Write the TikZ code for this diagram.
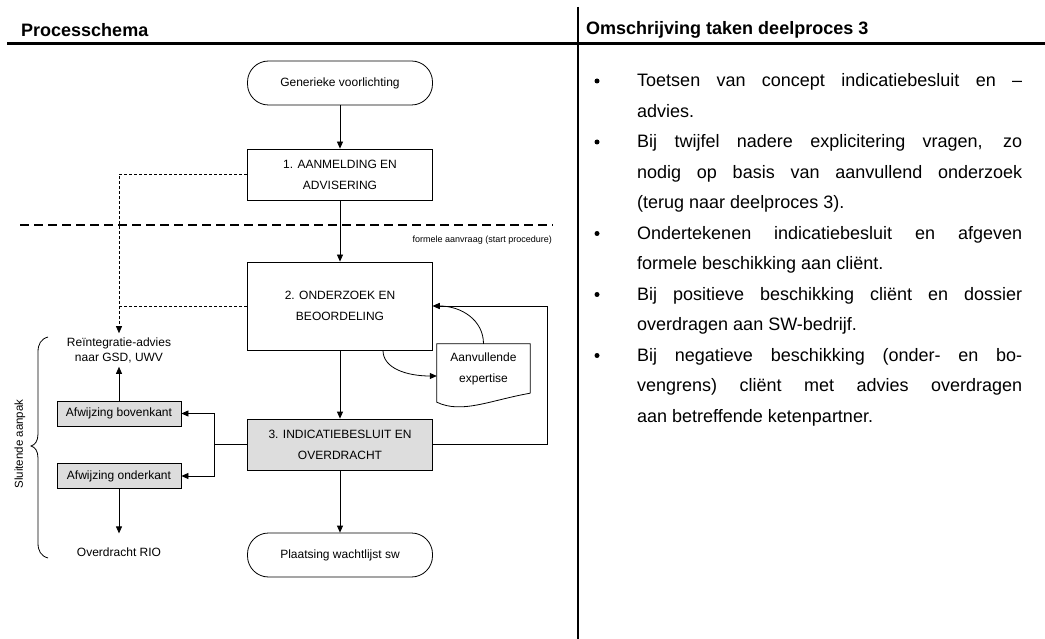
\documentclass[tikz,border=0pt]{standalone}
\usepackage{fontspec}
\setmainfont{Liberation Sans}
\usetikzlibrary{arrows.meta,calc}
\definecolor{boxgray}{RGB}{221,221,221}
% justified paragraph of the task list, no hyphenation
\newcommand\taskpar[1]{\parbox[t]{385pt}{\fontsize{18}{30.5}\selectfont
  \hyphenpenalty=10000\relax \hbadness=10000\relax #1}}

\begin{document}
\begin{tikzpicture}[x=1pt,y=-1pt,
  ln/.style={line width=0.8pt},
  arr/.style={ln,-{Triangle[length=7pt,width=6pt]}},
  dsh/.style={line width=0.7pt,dash pattern=on 3pt off 2pt},
  chartfont/.style={font=\fontsize{12}{21}\selectfont},
  procbox/.style={draw,ln,chartfont,minimum width=185pt,inner sep=0pt,align=center},
  termbox/.style={draw,ln,chartfont,minimum width=185pt,minimum height=44pt,rounded corners=21pt,inner sep=0pt},
  sidebox/.style={draw,ln,fill=boxgray,font=\fontsize{12}{14}\selectfont,minimum width=124pt,minimum height=25pt,inner sep=0pt},
  plain/.style={font=\fontsize{12}{15}\selectfont,align=center,inner sep=2pt},
  head/.style={anchor=west,inner sep=0pt,font=\bfseries\fontsize{18}{21}\selectfont},
  itemtext/.style={anchor=base west,inner sep=0pt},
  bul/.style={circle,fill=black,inner sep=0pt,minimum size=5pt}
]
\useasboundingbox (0,0) rectangle (1045,639);

% table frame
\draw[line width=3pt] (7,44) -- (1045,44);
\draw[line width=1.3pt] (578,7) -- (578,639);
\node[head] (h1) at (21,30) {Processchema};
\node[head] (h2) at (586,30) {Omschrijving taken deelproces 3};

% flow chart nodes
\node[termbox] (gen) at (340,83) {Generieke voorlichting};
\node[procbox,minimum height=51pt] (b1) at (340,174.5) {1. AANMELDING EN\\ADVISERING};
\node[procbox,minimum height=88pt] (b2) at (340,306) {2. ONDERZOEK EN\\BEOORDELING};
\node[procbox,fill=boxgray,minimum height=51pt] (b3) at (340,444.5) {3. INDICATIEBESLUIT EN\\OVERDRACHT};
\node[termbox] (pl) at (340,555) {Plaatsing wachtlijst sw};

\node[sidebox] (bov) at (119,413.5) {Afwijzing bovenkant};
\node[sidebox] (ond) at (119,476) {Afwijzing onderkant};
\node[plain,inner sep=4pt] (rei) at (119,350) {Reïntegratie-advies\\naar GSD, UWV};
\node[plain] (rio) at (119,552) {Overdracht RIO};

% document shape
\node[chartfont,align=center,minimum width=93pt,minimum height=49pt,inner sep=0pt] (doc) at (483.5,368.5) {\raisebox{-3pt}{\parbox{80pt}{\centering Aanvullende\\expertise}}};
\draw[ln] (doc.south east) -- (doc.north east) -- (doc.north west) -- ([yshift=-9pt]doc.south west)
  .. controls +(25,12) and +(-40,7) .. (doc.south east);

% phase separator
\draw[line width=1.8pt,dash pattern=on 9pt off 5pt] (20,225) -- (553,225);
\node[anchor=east,inner sep=0pt,font=\fontsize{9}{11}\selectfont] (fa) at (552,240) {formele aanvraag (start procedure)};

% main flow
\draw[arr] (gen) -- (b1);
\draw[arr] (b1) -- (b2);
\draw[arr] (b2) -- (b3);
\draw[arr] (b3) -- (pl);

% additional expertise loop
\draw[arr] ([xshift=43pt]b2.south) .. controls +(0,18) and +(-30,0) .. ([yshift=-7.5pt]doc.west);
\draw[arr] (doc.north) .. controls +(0,-24) and +(28,0) .. (b2.east);
\draw[arr] (b3.east) -- (547,444.5) |- (b2.east);

% rejections
\coordinate (split) at (214,444.5);
\draw[ln] (b3.west) -- (split);
\draw[arr] (split) |- (bov.east);
\draw[arr] (split) |- (ond.east);
\draw[arr] (bov.north) -- (rei.south);
\draw[arr] (ond.south) -- ([yshift=12pt]rio.north);

% advice to reintegration
\draw[dsh,-{Triangle[length=7pt,width=6pt]}] (b1.west) -| (rei.north);
\draw[dsh] (b2.west) -- (b2.west -| rei.north);

% closing approach brace
\draw[ln] (48,337) .. controls (41,339) and (38,344) .. (38,352) -- (38,434)
  .. controls (38,441) and (35,445) .. (31,446) .. controls (35,447) and (38,451) .. (38,458)
  -- (38,543) .. controls (38,551) and (41,556) .. (48,558);
\node[rotate=90,inner sep=0pt,font=\fontsize{11.5}{14}\selectfont] (sa) at (20,444) {Sluitende aanpak};

% task description
\node[bul] (d1) at (597,81) {};
\node[itemtext] (t1) at (637,87) {\taskpar{Toetsen van concept indicatiebesluit en –\linebreak advies.}};
\node[bul] (d2) at (597,142) {};
\node[itemtext] (t2) at (637,148) {\taskpar{Bij twijfel nadere explicitering vragen, zo\linebreak nodig op basis van aanvullend onderzoek\linebreak (terug naar deelproces 3).}};
\node[bul] (d3) at (597,233.5) {};
\node[itemtext] (t3) at (637,239.5) {\taskpar{Ondertekenen indicatiebesluit en afgeven\linebreak formele beschikking aan cliënt.}};
\node[bul] (d4) at (597,294.5) {};
\node[itemtext] (t4) at (637,300.5) {\taskpar{Bij positieve beschikking cliënt en dossier\linebreak overdragen aan SW-bedrijf.}};
\node[bul] (d5) at (597,355.5) {};
\node[itemtext] (t5) at (637,361.5) {\taskpar{Bij negatieve beschikking (onder- en bo-\linebreak vengrens) cliënt met advies overdragen\linebreak aan betreffende ketenpartner.}};
\end{tikzpicture}
\end{document}
